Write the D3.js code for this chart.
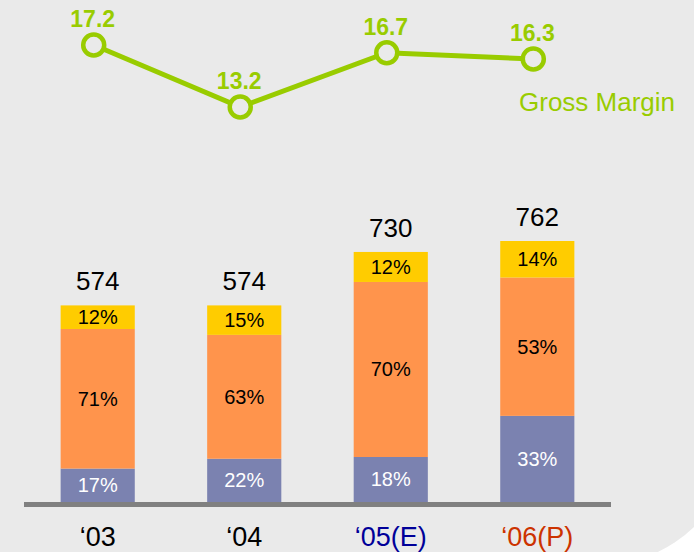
<!DOCTYPE html>
<html>
<head>
<meta charset="utf-8">
<script src="https://cdn.jsdelivr.net/npm/d3@7"></script>
<style>
  body { margin: 0; background: #fff; }
  text { font-family: "Liberation Sans", Arial, sans-serif; }
</style>
</head>
<body>
<svg id="chart" width="694" height="552"></svg>
<script>
// data
const years = ['‘03', '‘04', '‘05(E)', '‘06(P)']
const totals = [574, 574, 730, 762]
const shareBottom = [17, 22, 18, 33]
const shareMiddle = [71, 63, 70, 53]
const shareTop = [12, 15, 12, 14]
const grossMargin = [17.2, 13.2, 16.7, 16.3]

let svg = d3.select('#chart')

// grey panel, rounded corner bottom right
svg.append('rect')
  .attr('x', -100).attr('y', -100)
  .attr('width', 835).attr('height', 665)
  .attr('rx', 135)
  .attr('fill', '#eaeaea')

let x = d3.scaleBand().domain(years).range([24, 611]).paddingInner(0.494).paddingOuter(0.25)
let y = d3.scaleLinear().domain([0, d3.max(totals)]).range([502, 241])
let gy = d3.scaleLinear().domain([13.2, 17.2]).range([107, 45])

let rows = years.map((yr, i) => ({
  year: yr,
  total: totals[i],
  bottom: shareBottom[i],
  middle: shareMiddle[i],
  top: shareTop[i]
}))

let keys = ['bottom', 'middle', 'top']
let colors = { bottom: '#7b82b0', middle: '#ff944c', top: '#ffcc00' }
let textColors = { bottom: '#fff', middle: '#000', top: '#000' }

// stack on percentages, then scale by the bar total
let stack = d3.stack().keys(keys)(rows)

let layer = svg.selectAll('.layer').data(stack).enter()
  .append('g').attr('class', 'layer')

layer.selectAll('rect').data(d => d.map(s => ({ key: d.key, s: s }))).enter()
  .append('rect')
  .attr('x', d => x(d.s.data.year))
  .attr('width', x.bandwidth())
  .attr('y', d => y(d.s[1] / 100 * d.s.data.total))
  .attr('height', d => y(d.s[0] / 100 * d.s.data.total) - y(d.s[1] / 100 * d.s.data.total))
  .attr('fill', d => colors[d.key])

layer.selectAll('text').data(d => d.map(s => ({ key: d.key, s: s }))).enter()
  .append('text')
  .attr('x', d => x(d.s.data.year) + x.bandwidth() / 2)
  .attr('y', d => y((d.s[0] + d.s[1]) / 200 * d.s.data.total) + 7)
  .attr('text-anchor', 'middle')
  .attr('font-size', 20)
  .attr('fill', d => textColors[d.key])
  .text(d => d.s.data[d.key] + '%')

// totals
svg.selectAll('.total').data(rows).enter()
  .append('text').attr('class', 'total')
  .attr('x', d => x(d.year) + x.bandwidth() / 2)
  .attr('y', d => y(d.total) - 15)
  .attr('text-anchor', 'middle')
  .attr('font-size', 26)
  .attr('fill', '#000')
  .text(d => d.total)

// baseline
svg.append('rect')
  .attr('x', x.range()[0]).attr('y', 502)
  .attr('width', x.range()[1] - x.range()[0]).attr('height', 5)
  .attr('fill', '#808080')

// year labels
let yearColor = d3.scaleOrdinal().domain(years).range(['#000', '#000', '#000099', '#cc3300'])
svg.selectAll('.year').data(years).enter()
  .append('text').attr('class', 'year')
  .attr('x', d => x(d) + x.bandwidth() / 2)
  .attr('y', 546)
  .attr('text-anchor', 'middle')
  .attr('font-size', 27)
  .attr('fill', d => yearColor(d))
  .text(d => d)

// gross margin line
let green = '#99cc00'
let pts = years.map((yr, i) => [x(yr) + x.bandwidth() / 2 - 4, gy(grossMargin[i]), grossMargin[i]])

svg.append('path')
  .attr('d', d3.line()(pts))
  .attr('fill', 'none')
  .attr('stroke', green)
  .attr('stroke-width', 5)

svg.selectAll('.dot').data(pts).enter()
  .append('circle').attr('class', 'dot')
  .attr('cx', d => d[0]).attr('cy', d => d[1])
  .attr('r', 10.5)
  .attr('fill', '#eaeaea')
  .attr('stroke', green)
  .attr('stroke-width', 4.5)

svg.selectAll('.gm').data(pts).enter()
  .append('text').attr('class', 'gm')
  .attr('x', d => d[0] - 1)
  .attr('y', d => d[1] - 18)
  .attr('text-anchor', 'middle')
  .attr('font-size', 23)
  .attr('font-weight', 'bold')
  .attr('fill', green)
  .text(d => d[2])

svg.append('text')
  .attr('x', 519).attr('y', 111)
  .attr('font-size', 26)
  .attr('fill', green)
  .text('Gross Margin')
</script>
</body>
</html>
